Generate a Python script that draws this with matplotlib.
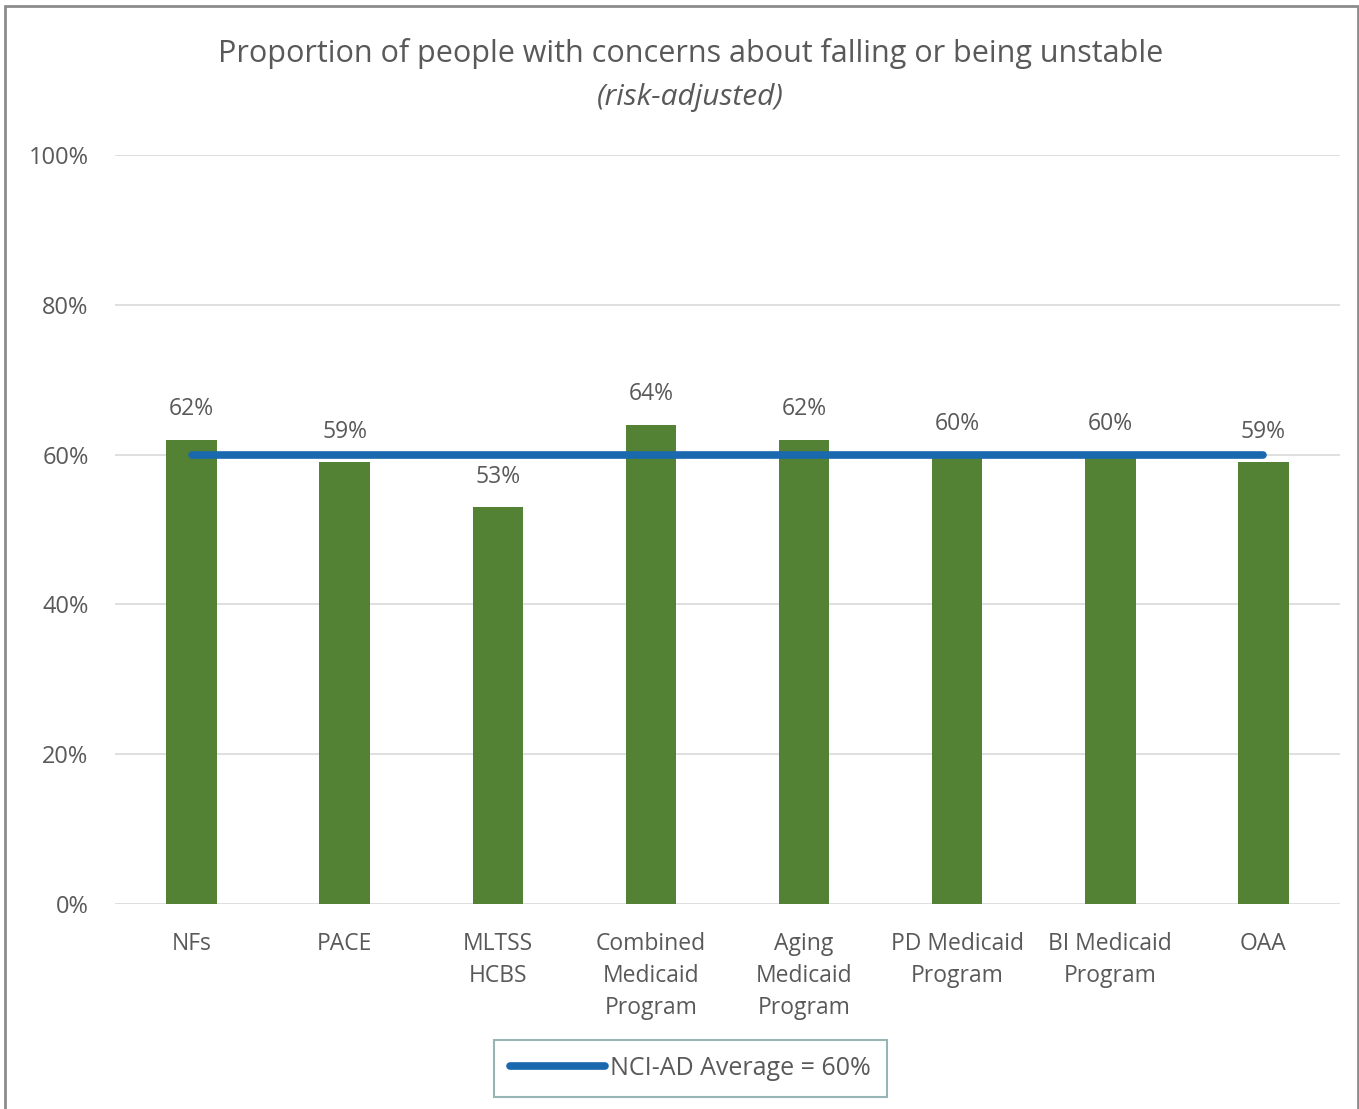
import matplotlib.pyplot as plt
from matplotlib.patches import Rectangle
from matplotlib.lines import Line2D

programs = ["NFs", "PACE", "MLTSS\nHCBS", "Combined\nMedicaid\nProgram", "Aging\nMedicaid\nProgram",
            "PD Medicaid\nProgram", "BI Medicaid\nProgram", "OAA"]
shares = [62, 59, 53, 64, 62, 60, 60, 59]
nci_average = 60
yticks = [0, 20, 40, 60, 80, 100]

plt.rcParams["font.family"] = ["Open Sans", "DejaVu Sans"]
text_color = "#595959"
bar_color = "#548235"
line_color = "#1a68ad"

fig = plt.figure(figsize=(13.59, 11.09), dpi=100)
ax = fig.add_axes([0.0846, 0.1848, 0.9014, 0.6754])

x = list(range(len(programs)))
ax.bar(x, shares, width=0.33, color=bar_color, zorder=2)
ax.plot([x[0], x[-1]], [nci_average, nci_average], color=line_color, lw=5.5,
        solid_capstyle="round", zorder=3)

# value labels sit on white boxes so they hide the average line behind them
for xi, v in zip(x, shares):
    ax.annotate(f"{v}%", (xi, v), xytext=(0, 22), textcoords="offset points",
                ha="center", va="center", fontsize=16.5, color=text_color, zorder=4,
                bbox=dict(boxstyle="square,pad=0.15", fc="white", ec="none"))

ax.set_xlim(-0.5, len(programs) - 0.5)
ax.set_ylim(0, 100)
ax.set_yticks(yticks)
ax.set_yticklabels([f"{t}%" for t in yticks], fontsize=17, color=text_color)
ax.set_xticks(x)
ax.set_xticklabels(programs, fontsize=16.5, color=text_color, linespacing=1.45)
ax.tick_params(axis="both", length=0)
ax.tick_params(axis="y", pad=19)
ax.tick_params(axis="x", pad=20)
ax.grid(axis="y", color="#d9d9d9", lw=1.2, zorder=0)
for s in ax.spines.values():
    s.set_visible(False)

fig.text(0.508, 0.952, "Proportion of people with concerns about falling or being unstable",
         ha="center", va="center", fontsize=22, color=text_color)
fig.text(0.508, 0.912, "(risk-adjusted)", ha="center", va="center", fontsize=21.5,
         color=text_color, style="italic")

handle = Line2D([], [], color=line_color, lw=5.5, solid_capstyle="round")
leg = fig.legend([handle], ["NCI-AD Average = 60%"], loc="center",
                 bbox_to_anchor=(0.508, 0.0365), fontsize=18, frameon=True,
                 fancybox=False, handlelength=3.8, handletextpad=0.2,
                 borderpad=0.65, borderaxespad=0)
leg.get_frame().set_edgecolor("#7fa3a3")
leg.get_frame().set_linewidth(1.5)
for t in leg.get_texts():
    t.set_color(text_color)

# outer frame of the chart area
fig.patches.append(Rectangle((0.004, -0.01), 0.995, 1.005, transform=fig.transFigure,
                             fill=False, ec="#8c8c8c", lw=2))

fig.savefig("out.png", dpi=100)
